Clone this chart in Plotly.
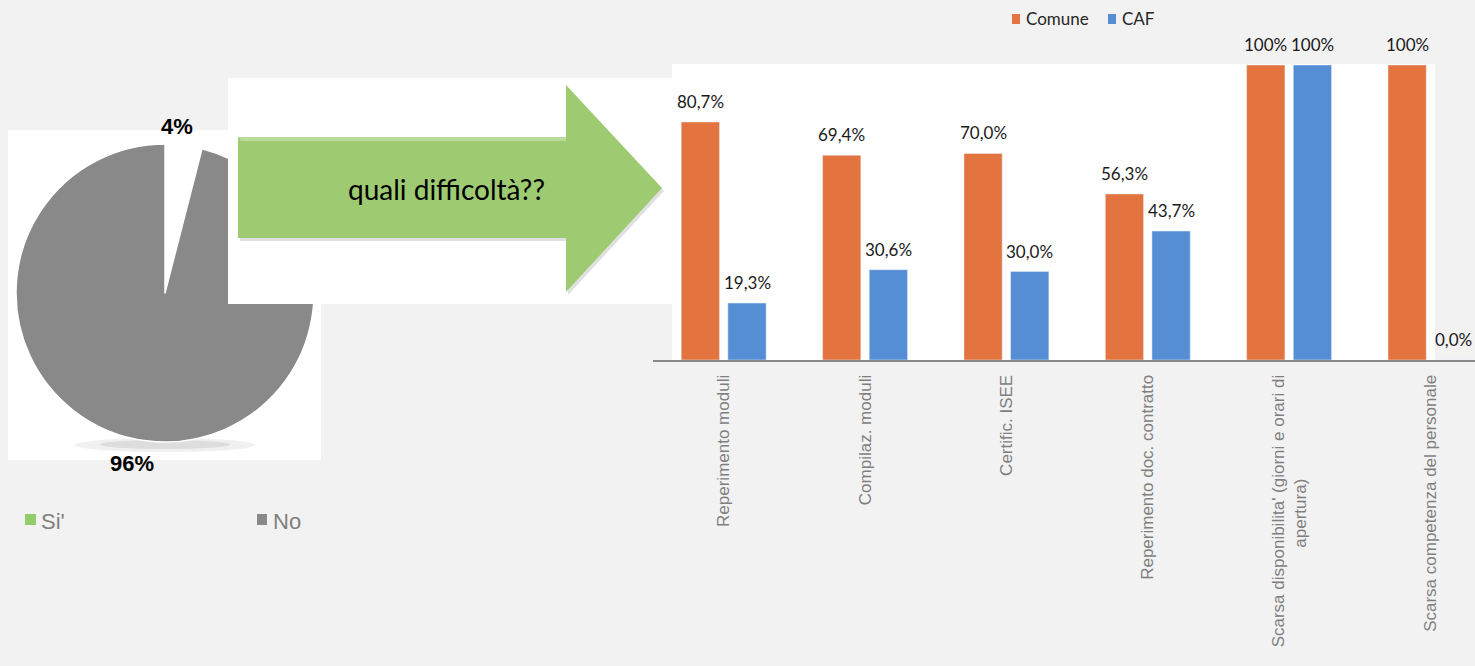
import plotly.graph_objects as go

W, H = 1475, 666

# ---- data -------------------------------------------------------------
pie_labels = ["Si'", "No"]
pie_values = [4, 96]

categories = [
    "Reperimento moduli",
    "Compilaz. moduli",
    "Certific. ISEE",
    "Reperimento doc. contratto",
    "Scarsa disponibilita' (giorni e orari di<br>apertura)" + "&nbsp;" * 22,
    "Scarsa competenza del personale",
]
comune = [80.7, 69.4, 70.0, 56.3, 100, 100]
caf = [19.3, 30.6, 30.0, 43.7, 100, 0.0]

ORANGE = "#E3743F"
BLUE = "#558ED5"
GRAY_PIE = "#898989"
GREEN = "#9ECB72"
BG = "#F2F2F2"
LABEL_FONT = "Lato, Carlito, 'Open Sans', sans-serif"
AXIS_FONT = "'Liberation Sans', Arial, sans-serif"


def px(x):
    return x / W


def py(y):
    return 1 - y / H


def pct(v):
    if v == 100:
        return "100%"
    return f"{v:.1f}".replace(".", ",") + "%"


fig = go.Figure()

# ---- pie --------------------------------------------------------------
cx, cy, r = 165, 293, 149
fig.add_trace(go.Pie(
    labels=pie_labels,
    values=pie_values,
    sort=False,
    direction="clockwise",
    rotation=0,
    marker=dict(colors=["#FFFFFF", GRAY_PIE], line=dict(color="#FFFFFF", width=1.5)),
    textinfo="none",
    hoverinfo="label+percent",
    showlegend=False,
    domain=dict(x=[px(cx - r), px(cx + r)], y=[py(cy + r), py(cy - r)]),
))

# ---- bars -------------------------------------------------------------
xs = list(range(len(categories)))
fig.add_trace(go.Bar(name="Comune", x=xs, y=comune, marker_color=ORANGE,
                     showlegend=False))
fig.add_trace(go.Bar(name="CAF", x=xs, y=caf, marker_color=BLUE,
                     showlegend=False))

bargap = 0.34
offset = (1 - bargap) / 4
annotations = []
for i in xs:
    for v, dx in ((comune[i], -offset), (caf[i], offset)):
        annotations.append(dict(
            x=i + dx, y=v, xref="x", yref="y", text=pct(v),
            showarrow=False, xanchor="center", yanchor="bottom", yshift=8,
            font=dict(family=LABEL_FONT, size=17, color="#1A1A1A"),
        ))


def paper_text(x, y, text, family, size, color, xanchor="center"):
    return dict(x=px(x), y=py(y), xref="paper", yref="paper", text=text,
                showarrow=False, xanchor=xanchor, yanchor="middle",
                font=dict(family=family, size=size, color=color))


# pie percentage labels
annotations.append(paper_text(177, 127, f"<b>{pie_values[0]}%</b>",
                              AXIS_FONT, 22, "#000000"))
annotations.append(paper_text(132, 463, f"<b>{pie_values[1]}%</b>",
                              AXIS_FONT, 22, "#000000"))

# arrow caption
annotations.append(paper_text(446, 189, "quali difficoltà??",
                              LABEL_FONT, 28, "#000000"))

# legend texts
annotations.append(paper_text(1024, 19, "Comune", LABEL_FONT, 17, "#262626", "left"))
annotations.append(paper_text(1120, 19, "CAF", LABEL_FONT, 17, "#262626", "left"))
annotations.append(paper_text(39, 521, pie_labels[0], AXIS_FONT, 22, "#7F7F7F", "left"))
annotations.append(paper_text(271, 521, pie_labels[1], AXIS_FONT, 22, "#7F7F7F", "left"))


def rect(x0, y0, x1, y1, color, layer="below"):
    return dict(type="rect", xref="paper", yref="paper",
                x0=px(x0), x1=px(x1), y0=py(y1), y1=py(y0),
                fillcolor=color, line=dict(width=0), layer=layer)


def poly(points, color, layer="above"):
    d = "M" + " L".join(f"{px(x):.5f},{py(y):.5f}" for x, y in points) + " Z"
    return dict(type="path", xref="paper", yref="paper", path=d,
                fillcolor=color, line=dict(width=0), layer=layer)


def ellipse(x0, y0, x1, y1, color, layer="below"):
    return dict(type="circle", xref="paper", yref="paper",
                x0=px(x0), x1=px(x1), y0=py(y1), y1=py(y0),
                fillcolor=color, line=dict(width=0), layer=layer)


arrow_pts = [(238, 137), (566, 137), (566, 85), (662, 188),
             (566, 292), (566, 238), (238, 238)]
shadow_pts = [(x + 2, y + 3) for x, y in arrow_pts]

shapes = [
    rect(8, 130, 321, 460, "#FFFFFF"),            # pie panel
    ellipse(75, 438, 255, 452, "rgba(0,0,0,0.06)"),  # soft shadow under pie
    ellipse(100, 440, 230, 449, "rgba(0,0,0,0.08)"),
    rect(672, 64, 1435, 360, "#FFFFFF"),          # bar plot panel
    rect(228, 78, 672, 304, "#FFFFFF", "above"),  # arrow panel
    poly(shadow_pts, "rgba(0,0,0,0.12)"),
    poly(arrow_pts, GREEN),
    poly([(238, 137), (566, 137), (566, 141), (241, 141)], "#B9DC98"),
    # legend swatches
    rect(1012, 14, 1020, 24, ORANGE),
    rect(1108, 14, 1116, 24, BLUE),
    rect(25, 514, 36, 525, "#92CD6B"),
    rect(257, 514, 267, 525, GRAY_PIE),
]

fig.update_layout(
    width=W, height=H,
    margin=dict(l=0, r=0, t=0, b=0),
    paper_bgcolor=BG,
    plot_bgcolor="rgba(0,0,0,0)",
    barmode="group",
    bargap=bargap,
    bargroupgap=0.18,
    showlegend=False,
    shapes=shapes,
    annotations=annotations,
    xaxis=dict(
        domain=[px(653), 1],
        range=[-0.5, 5.315],
        tickmode="array", tickvals=xs, ticktext=categories,
        tickangle=-90,
        tickfont=dict(family=AXIS_FONT, size=17, color="#7F7F7F"),
        showline=True, linecolor="#898989", linewidth=2,
        showgrid=False, zeroline=False, ticks="",
        ticklabelstandoff=6,
        fixedrange=True,
    ),
    yaxis=dict(
        domain=[py(360), py(65)],
        range=[0, 100],
        visible=False,
        fixedrange=True,
    ),
)

fig.write_html("out.html")
